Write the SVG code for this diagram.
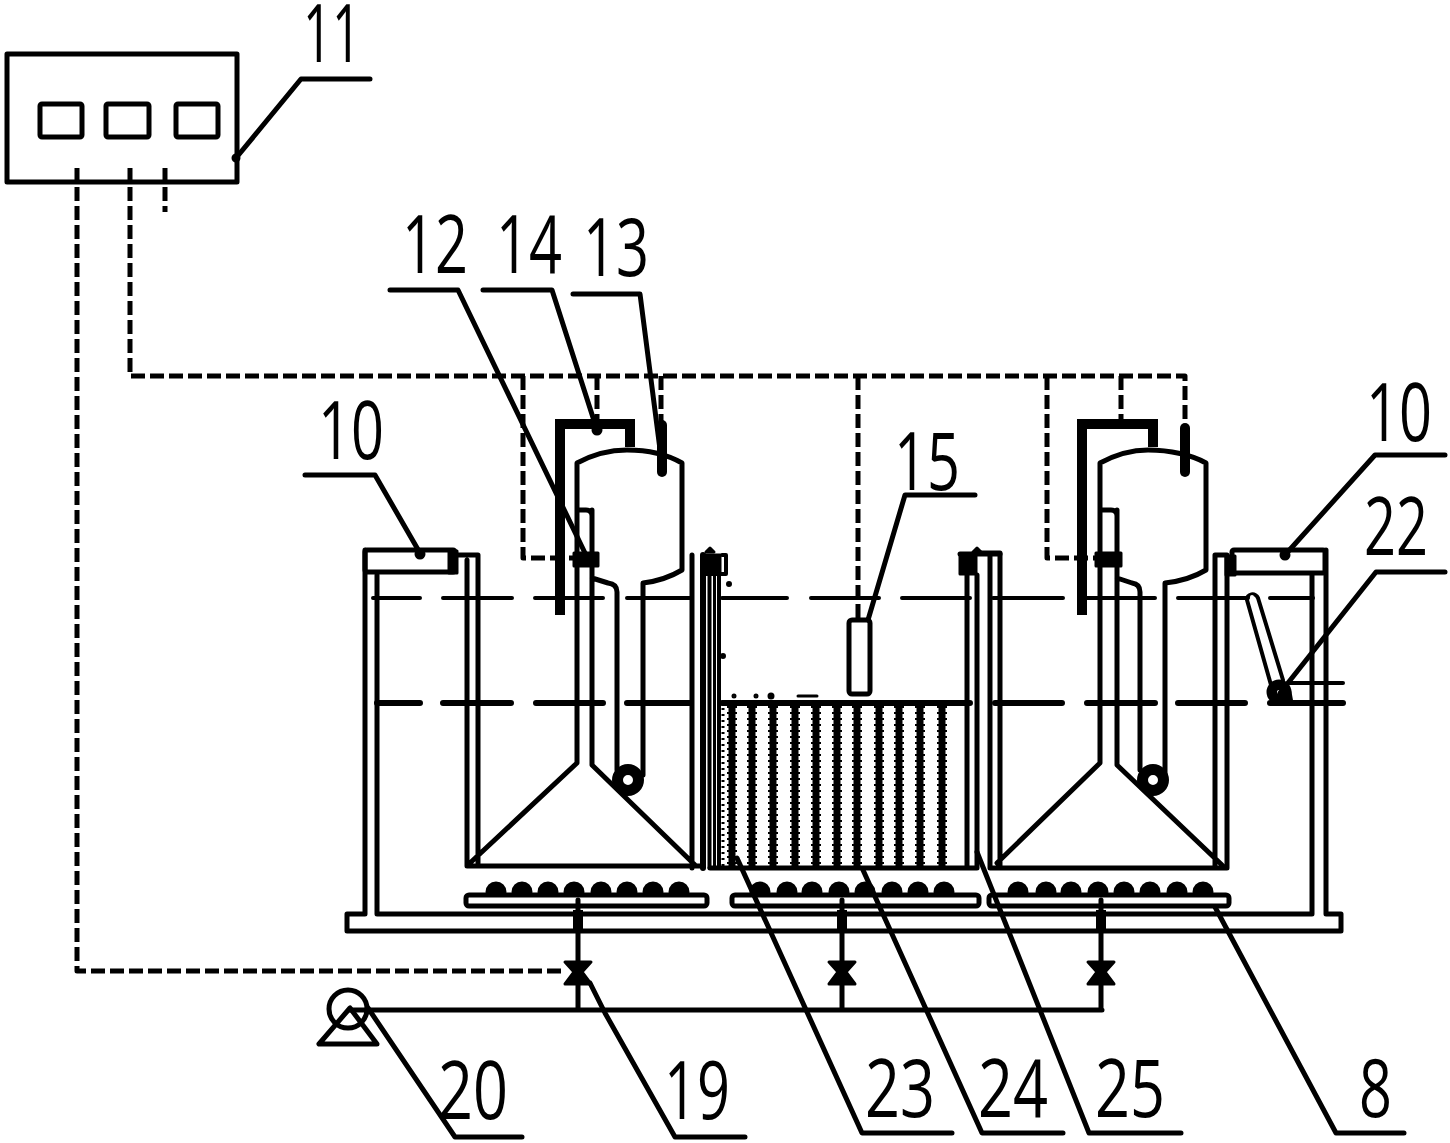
<svg xmlns="http://www.w3.org/2000/svg" width="1450" height="1143" viewBox="0 0 1450 1143">
<style>
.l{fill:none;stroke:#000;stroke-width:5;stroke-linecap:round;stroke-linejoin:round}
.t{stroke-width:10;stroke-linecap:butt;stroke-linejoin:miter}
.d{stroke-width:5;stroke-dasharray:14 5;stroke-linecap:butt}
.lv1{stroke-width:4}
.lv2{stroke-width:6}
.k{fill:#000;stroke:#000;stroke-width:3;stroke-linejoin:round}
.w{fill:#fff;stroke:none}
.n{font-family:"Open Sans","Liberation Sans",Arial,sans-serif;font-size:80px;fill:#000}
.m{stroke-width:7;stroke-linecap:butt}
.s{stroke-width:10;stroke-dasharray:2 4;stroke-linecap:butt}
</style>
<rect width="1450" height="1143" fill="#fff"/>

<g id="tank">
<path class="l" d="M365 550V914H347V931H1341V914H1326V550M377 575V914H1312V575"/>
</g>
<g id="levels">
<path class="l lv1" d="M373 598H420M443 598H512M535 598H603M627 598H692M722 598H787M811 598H879M902 598H970M993 598H1063M1087 598H1155M1178 598H1248M1270 598H1313"/>
<path class="l lv2" d="M377 703H420M443 703H511M536 703H603M627 703H690M722 703H970M995 703H1062M1087 703H1155M1178 703H1245"/>
<path class="l lv2" d="M1270 703H1343"/>
<path class="l lv1" d="M1290 683H1343"/>
</g>

<g id="cell-left">
<path class="l" d="M467 560V866H703M692 555V868M478 555H458M478 555V863M470 863L577 763V463C590 456 605 450 627 450C650 450 668 455 682 463V570C672 576 660 581 643 583V775M592 510V765L695 865M577 510H586Q592 510 592 516M592 578L608 583Q617 584 617 592V770"/>
<circle class="l" cx="628" cy="780" r="10.5" style="stroke-width:11"/>
<rect class="k" x="574" y="553" width="24" height="13"/>
<path class="l t" d="M560 615V424H630V447"/>
<path class="l t" d="M662 425V472" style="stroke-linecap:round"/>
</g>

<g id="cell-right">
<path class="l" d="M990 555V868H1227V555H1215V868M1000 553V866M1000 553H978M997 863L1100 763V463C1113 456 1128 450 1148 450C1170 450 1192 455 1206 463V570C1196 576 1184 581 1165 583V775M1117 510V765L1222 865M1100 510H1111Q1117 510 1117 516M1117 578L1132 583Q1140 584 1140 592V770"/>
<circle class="l" cx="1153" cy="780" r="10.5" style="stroke-width:11"/>
<rect class="k" x="1096" y="553" width="25" height="13"/>
<path class="l t" d="M1082 615V424H1153V447"/>
<path class="l t" d="M1185 428V472" style="stroke-linecap:round"/>
</g>

<g id="media">
<path class="l" d="M703 555V868" style="stroke-width:6"/>
<path class="l" d="M709.5 570V868" style="stroke-width:4"/>
<path class="l" d="M714.5 570V868" style="stroke-width:3"/>
<path class="l" d="M719 575V868" style="stroke-width:4"/>
<path class="l" d="M710 868H977V575M967 575V868"/>
<path class="l m" d="M732 706V866M752 706V866M773 706V866M795 706V866M816 706V866M837 706V866M857 706V866M879 706V866M899 706V866M920 706V866M942 706V866"/>
<path class="l s" d="M732 706V866M752 706V866M773 706V866M795 706V866M816 706V866M837 706V866M857 706V866M879 706V866M899 706V866M920 706V866M942 706V866"/>
<path class="l" d="M723 708V866" style="stroke-width:3;stroke-dasharray:2 4;stroke-linecap:butt"/>
<rect class="k" x="704" y="555" width="16" height="17"/>
<path class="l" d="M722 555H726V574H705" style="stroke-width:4"/>
<path class="k" d="M706 552L710 548L714 552Z"/>
<rect class="k" x="960" y="555" width="16" height="19"/>
<path class="k" d="M973 552L977 548L981 552Z"/>
<path class="l" d="M960 554H1000"/>
<circle class="k" cx="729" cy="584" r="1.5"/>
<circle class="k" cx="723" cy="656" r="1.5"/>
<circle class="k" cx="734" cy="696" r="1"/>
<circle class="k" cx="756" cy="696" r="1"/>
<circle class="k" cx="771" cy="696" r="2"/>
<path class="l" d="M798 696H817" style="stroke-width:3"/>
</g>

<g id="controller-11">
<rect class="l" x="7" y="54" width="230" height="128"/>
<rect class="l" x="40" y="104" width="42" height="33" rx="2"/>
<rect class="l" x="106" y="104" width="43" height="33" rx="2"/>
<rect class="l" x="176" y="104" width="42" height="33" rx="2"/>
</g>
<g id="flow-meter-10-left">
<rect class="l" x="365" y="550" width="90" height="22" rx="2"/>
<rect class="k" x="449" y="551" width="8" height="22"/>
</g>
<g id="flow-meter-10-right">
<rect class="l" x="1232" y="550" width="93" height="23" rx="2"/>
<rect class="k" x="1226" y="556" width="9" height="19"/>
</g>
<g id="sensor-15">
<rect class="l" x="849" y="620" width="21" height="74" rx="3"/>
</g>
<g id="lever-22">
<path class="l" d="M1247 600C1246 594 1256 592 1258 598L1283 680M1247 600L1271 685" style="stroke-width:4"/>
<circle class="w" cx="1252" cy="597" r="2"/>
<circle class="k" cx="1279" cy="692" r="11"/>
<path class="k" d="M1272 703H1292L1290 692H1270Z"/>
<circle class="w" cx="1279" cy="692" r="2"/>
</g>
<g id="aerators">
<g id="aerator-left">
<g class="k"><circle cx="496" cy="892" r="9"/><circle cx="522" cy="892" r="9"/><circle cx="548" cy="892" r="9"/><circle cx="574" cy="892" r="9"/><circle cx="601" cy="892" r="9"/><circle cx="627" cy="892" r="9"/><circle cx="653" cy="892" r="9"/><circle cx="679" cy="892" r="9"/></g>
<rect class="l" x="466" y="895" width="241" height="11" rx="3" style="fill:#fff"/>
</g>
<g id="aerator-middle">
<g class="k"><circle cx="760" cy="892" r="9"/><circle cx="787" cy="892" r="9"/><circle cx="812" cy="892" r="9"/><circle cx="839" cy="892" r="9"/><circle cx="865" cy="892" r="9"/><circle cx="892" cy="892" r="9"/><circle cx="918" cy="892" r="9"/><circle cx="944" cy="892" r="9"/></g>
<rect class="l" x="732" y="895" width="247" height="11" rx="3" style="fill:#fff"/>
</g>
<g id="aerator-right">
<g class="k"><circle cx="1018" cy="892" r="9"/><circle cx="1046" cy="892" r="9"/><circle cx="1071" cy="892" r="9"/><circle cx="1098" cy="892" r="9"/><circle cx="1124" cy="892" r="9"/><circle cx="1150" cy="892" r="9"/><circle cx="1177" cy="892" r="9"/><circle cx="1203" cy="892" r="9"/></g>
<rect class="l" x="989" y="895" width="240" height="11" rx="3" style="fill:#fff"/>
</g>
</g>
<g id="valve-19"><path class="k" d="M565 962H591L582 972L591 984H565L574 972Z"/></g>
<g id="valve-2"><path class="k" d="M829 962H855L846 972L855 984H829L838 972Z"/></g>
<g id="valve-3"><path class="k" d="M1088 962H1114L1105 972L1114 984H1088L1097 972Z"/></g>
<g id="pump-20">
<circle class="l" cx="348" cy="1009" r="19"/>
<path class="l" d="M350 1008L319 1044H377Z"/>
</g>

<g id="connectors">
<path class="l" d="M578 900V1010M842 900V1010M1101 900V1010M350 1010H1102"/>
<path class="l" style="stroke-width:10;stroke-linecap:butt" d="M578 910V931M842 910V931M1101 910V931"/>
<path class="l d" d="M77 168V971H565"/>
<path class="l d" d="M130 168V376H1185V440"/>
<path class="l d" d="M165 168V212"/>
<path class="l d" d="M523 376V558H585"/>
<path class="l d" d="M597 376V430"/>
<path class="l d" d="M661 376V430"/>
<path class="l d" d="M858 376V620"/>
<path class="l d" d="M1047 376V558H1097"/>
<path class="l d" d="M1121 376V425"/>
</g>
<g id="leaders">
<path class="l" d="M236 158L301 79H370"/><circle class="k" cx="236" cy="158" r="3"/>
<path class="l" d="M390 290H458L585 553"/>
<path class="l" d="M483 290H552L597 430"/><circle class="k" cx="597" cy="430" r="4"/>
<path class="l" d="M573 294H640L662 465"/>
<path class="l" d="M305 475H375L420 553"/><circle class="k" cx="420" cy="554" r="4"/>
<path class="l" d="M1445 455H1375L1285 555"/><circle class="k" cx="1285" cy="555" r="4"/>
<path class="l" d="M1445 572H1376L1280 693"/>
<path class="l" d="M975 495H905L868 620"/>
<path class="l" d="M522 1137H455L368 1008"/>
<path class="l" d="M745 1137H675L605 1013L590 983"/>
<path class="l" d="M952 1133H862L737 858"/>
<path class="l" d="M1063 1133H982L863 870"/>
<path class="l" d="M1181 1133H1089L977 852"/>
<path class="l" d="M1404 1133H1336L1215 907"/>
</g>
<g id="labels">
<text class="n" transform="translate(303 62) scale(.634 1)">11</text>
<text class="n" transform="translate(402 273) scale(.721 1)">12</text>
<text class="n" transform="translate(496 273) scale(.721 1)">14</text>
<text class="n" transform="translate(583 276) scale(.721 1)">13</text>
<text class="n" transform="translate(318 459) scale(.721 1)">10</text>
<text class="n" transform="translate(894 490) scale(.721 1)">15</text>
<text class="n" transform="translate(1366 441) scale(.721 1)">10</text>
<text class="n" transform="translate(1364 555) scale(.7 1)">22</text>
<text class="n" transform="translate(438 1119) scale(.765 1)">20</text>
<text class="n" transform="translate(664 1119) scale(.721 1)">19</text>
<text class="n" transform="translate(865 1117) scale(.765 1)">23</text>
<text class="n" transform="translate(978 1117) scale(.765 1)">24</text>
<text class="n" transform="translate(1095 1117) scale(.765 1)">25</text>
<text class="n" transform="translate(1359 1117) scale(.72 1)">8</text>
</g>
</svg>
